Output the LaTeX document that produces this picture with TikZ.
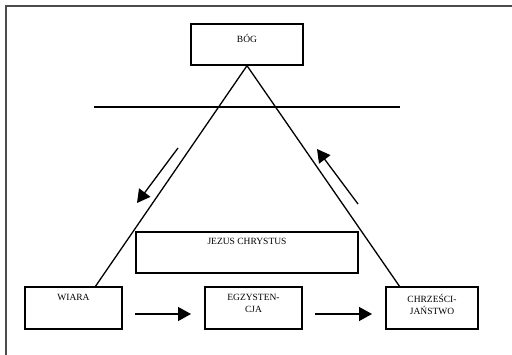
\documentclass[tikz,border=0pt]{standalone}
\usepackage{fontspec}
\setmainfont{Liberation Serif}
\usetikzlibrary{arrows.meta}
\begin{document}
\begin{tikzpicture}[x=1pt,y=-1pt,
  box/.style={draw,line width=1.4pt,inner sep=0pt},
  lbl/.style={font=\fontsize{9.5}{12.5}\selectfont,align=center,anchor=north,inner sep=0pt},
  leg/.style={line width=1.3pt},
  arr/.style={line width=1.3pt,-{Triangle[length=13pt,width=14pt]}}]
\useasboundingbox (0,0) rectangle (512,355);
% frame (top and left edges)
\draw[line width=1.5pt,black!70] (6,355) -- (6,6) -- (512,6);
% boxes
\node[box,minimum width=112pt,minimum height=41pt] (bog) at (247,44.5) {};
\node[lbl] at (247,34) {BÓG};
\node[box,minimum width=222pt,minimum height=41pt] (jezus) at (247,252.5) {};
\node[lbl] at (247,238) {JEZUS CHRYSTUS};
\node[box,minimum width=97pt,minimum height=42pt] (wiara) at (73.5,308) {};
\node[lbl] at (73.5,294) {WIARA};
\node[box,minimum width=97pt,minimum height=42pt] (egz) at (253.5,308) {};
\node[lbl] at (253.5,294) {EGZYSTEN-\\CJA};
\node[box,minimum width=92pt,minimum height=42pt] (chrz) at (432,308) {};
\node[lbl] at (432,294) {CHRZEŚCI-\\JAŃSTWO};
% triangle
\coordinate (apex) at (bog.south);
\coordinate (lf) at (95,287);
\coordinate (rf) at (400,287);
\draw[leg] (lf) -- (apex) -- (rf);
\coordinate (h1) at (94,107);
\coordinate (h2) at (400,107);
\draw[leg] (h1) -- (h2);
% diagonal arrows
\coordinate (a1s) at (178,148);
\coordinate (a1e) at (137,203);
\draw[arr] (a1s) -- (a1e);
\coordinate (a2s) at (358,204);
\coordinate (a2e) at (317,149);
\draw[arr] (a2s) -- (a2e);
% horizontal arrows
\coordinate (b1s) at (135,314);
\coordinate (b1e) at (191,314);
\draw[arr] (b1s) -- (b1e);
\coordinate (b2s) at (315,314);
\coordinate (b2e) at (372,314);
\draw[arr] (b2s) -- (b2e);
\end{tikzpicture}
\end{document}
